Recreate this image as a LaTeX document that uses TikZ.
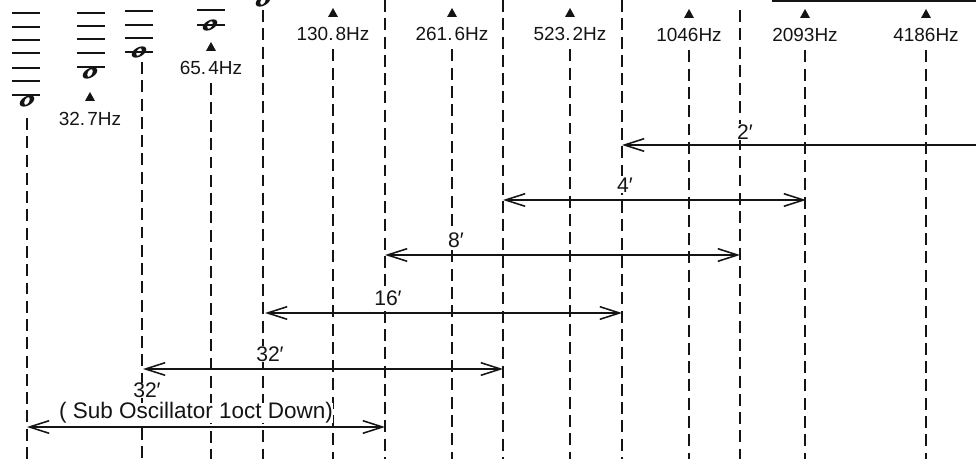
\documentclass[tikz,border=0pt]{standalone}
\usepackage{fontspec}
\setmainfont{Liberation Sans}
\usetikzlibrary{arrows.meta,calc}
\definecolor{myink}{rgb}{0.08,0.08,0.08}
\newcommand{\wnote}[2]{%
  \fill[myink,shift={(#1,#2)},rotate=30] (0,0) ellipse [x radius=8,y radius=4.6];
  \fill[white,shift={(#1,#2)},rotate=62] (0,0) ellipse [x radius=4.2,y radius=2.2];}

\begin{document}
\begin{tikzpicture}[x=0.025cm,y=-0.025cm,
  >={Straight Barb[length=14pt,width=9pt]},
  guide/.style={myink,line width=0.9pt,dash pattern=on 8.5pt off 4.5pt},
  span/.style={myink,line width=1.1pt},
  ledger/.style={myink,line width=1.2pt},
  hz/.style={font=\fontsize{13.5}{15}\selectfont,text=myink,inner sep=1pt},
  feet/.style={font=\fontsize{15}{17}\selectfont,text=myink,fill=white,inner sep=0.5pt}]
  \useasboundingbox (0,0) rectangle (976,459);
  \clip (0,0) rectangle (976,459);
  % notes on ledger lines
  \wnote{27}{101}
  \wnote{90}{73}
  \wnote{139}{52}
  \wnote{210}{25}
  \wnote{263}{1}
  \foreach \y in {13,27,40,53,68,81,95} \draw[ledger] (12,\y) -- (40,\y);
  \foreach \y in {13,26,39,53,67} \draw[ledger] (77,\y) -- (105,\y);
  \foreach \y in {11,25,38,52} \draw[ledger] (125,\y) -- (153,\y);
  \foreach \y in {10,25} \draw[ledger] (197,\y) -- (225,\y);
  \draw[myink,line width=0.9pt] (772,1) -- (976,1);
  % guide lines of the spans
  \foreach \nm/\x/\top in {c1/27/118,c2/142/62,c3/263/10,c4/385/0,c5/503/0,c6/622/0,c7/740/10}
    {\coordinate (\nm) at (\x,\top);
     \draw[guide] (\nm) -- (\nm |- 0,459);}
  % frequency marks
  \fill[myink] (85,101) -- (95,101) -- (90,92) -- cycle;
  \node[hz] (f32) at (90,119) {32.\kern1.5pt7Hz};
  \foreach \nm/\x/\ty/\txt in {f65/211/47/65.\kern1.5pt4Hz,f130/333/13/130.\kern1.5pt8Hz,
      f261/452/13/261.\kern1.5pt6Hz,f523/570/13/523.\kern1.5pt2Hz,f1046/689/14/1046Hz,
      f2093/805/14/2093Hz,f4186/926/14/4186Hz}
    {\fill[myink] (\x-5,\ty+4) -- (\x+5,\ty+4) -- (\x,\ty-5) -- cycle;
     \node[hz] (\nm) at (\x,\ty+21) {\txt};
     \draw[guide] ($(\nm.south)+(0,7)$) -- (\nm.south |- 0,459);}
  % footage spans
  \coordinate (a2) at (622,145);
  \coordinate (b2) at (976,145);
  \draw[span,<-] (a2) -- (b2);
  \node[feet] (l2) at (745,132) {2′};
  \foreach \nm/\xa/\xb/\y/\lx in {4/503/806/200/625,8/385/740/255/456,
      16/265/622/313/388,32/143/503/369/270}
    {\coordinate (a\nm) at (\xa,\y);
     \coordinate (b\nm) at (\xb,\y);
     \draw[span,<->] (a\nm) -- (b\nm);
     \node[feet] (l\nm) at (\lx,\y-15) {\nm′};}
  \coordinate (asub) at (27,427);
  \coordinate (bsub) at (385,427);
  \draw[span,<->] (asub) -- (bsub);
  \node[feet,inner sep=0pt,font=\fontsize{16}{18}\selectfont] (tsub) at (196,413) {( Sub Oscillator 1oct Down)};
  \node[feet,inner sep=0pt,anchor=south] (lsub) at ($(tsub.north -| 147,0)+(0,-4)$) {32′};
\end{tikzpicture}
\end{document}
